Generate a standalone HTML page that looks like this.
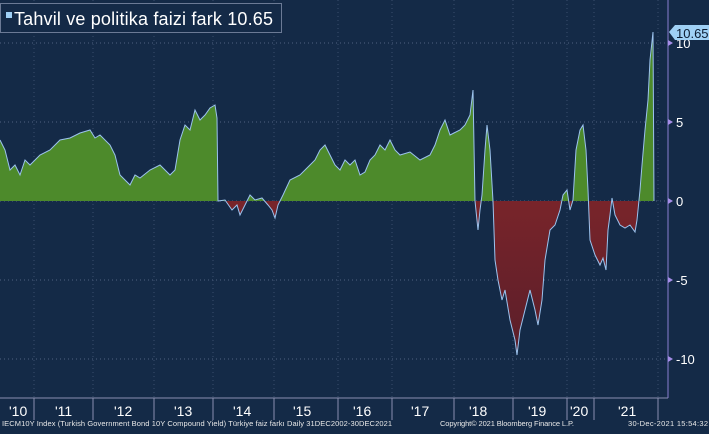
<!DOCTYPE html><html><head><style>
body{margin:0;background:#142a47;width:709px;height:429px;overflow:hidden;font-family:"Liberation Sans",sans-serif}
</style></head><body>
<svg width="709" height="429" xmlns="http://www.w3.org/2000/svg">
<rect width="709" height="429" fill="#142a47"/>
<defs>
<clipPath id="up"><rect x="0" y="0" width="668" height="201"/></clipPath>
<clipPath id="dn"><rect x="0" y="201" width="668" height="200"/></clipPath>
<linearGradient id="rg" x1="0" y1="0" x2="0" y2="1"><stop offset="0" stop-color="#9a2b2b"/><stop offset="1" stop-color="#5a1e2a"/></linearGradient>
<path id="f" d="M0,201 L0,140 5,150 10,170 15,165 20,175 25,160 30,165 40,155 50,150 60,140 70,138 80,133 90,130 95,138 100,135 110,145 115,155 120,175 125,180 130,185 135,175 140,178 150,170 160,165 170,175 175,170 180,140 185,125 190,130 195,110 200,120 205,115 210,108 215,105 217,118 218,201 225,200 232,210 237,205 240,215 245,205 250,195 255,200 262,198 268,205 272,210 275,218 278,205 283,195 290,180 300,175 310,165 315,160 320,150 325,145 330,155 335,165 340,170 345,160 350,165 355,160 360,175 365,172 370,160 375,155 380,145 385,150 390,140 395,150 400,155 410,152 420,160 430,155 435,145 440,130 445,120 450,135 460,130 465,125 470,115 473,90 475,201 478,230 480,210 482,195 485,150 487,125 490,150 493,201 495,260 498,280 502,300 505,290 510,320 515,340 517,355 520,330 525,310 530,290 535,310 538,325 542,300 545,260 550,230 555,225 560,210 563,195 567,190 570,210 573,200 576,150 580,130 583,125 586,150 588,190 590,240 595,255 600,265 603,258 606,270 608,230 610,215 612,198 615,215 620,225 625,228 630,225 635,232 637,220 640,190 642,165 645,130 648,100 650,60 653,32 654,201 Z"/>
</defs>
<g stroke="#4f6180" stroke-dasharray="1,3" stroke-width="1">
<line x1="0" x2="668" y1="43" y2="43"/><line x1="0" x2="668" y1="122" y2="122"/>
<line x1="0" x2="668" y1="201" y2="201"/><line x1="0" x2="668" y1="280" y2="280"/>
<line x1="0" x2="668" y1="359" y2="359"/>
</g>
<g stroke="#3a4d6c" stroke-dasharray="1,3" stroke-width="1">
<line x1="34" x2="34" y1="0" y2="398"/><line x1="93" x2="93" y1="0" y2="398"/><line x1="154" x2="154" y1="0" y2="398"/><line x1="213" x2="213" y1="0" y2="398"/><line x1="274" x2="274" y1="0" y2="398"/><line x1="338" x2="338" y1="0" y2="398"/><line x1="392" x2="392" y1="0" y2="398"/><line x1="454" x2="454" y1="0" y2="398"/><line x1="513" x2="513" y1="0" y2="398"/><line x1="567" x2="567" y1="0" y2="398"/><line x1="594" x2="594" y1="0" y2="398"/><line x1="658" x2="658" y1="0" y2="398"/>
</g>
<use href="#f" fill="#4d8a2b" clip-path="url(#up)"/>
<use href="#f" fill="url(#rg)" clip-path="url(#dn)"/>
<path d="M0,140 L5,150 10,170 15,165 20,175 25,160 30,165 40,155 50,150 60,140 70,138 80,133 90,130 95,138 100,135 110,145 115,155 120,175 125,180 130,185 135,175 140,178 150,170 160,165 170,175 175,170 180,140 185,125 190,130 195,110 200,120 205,115 210,108 215,105 217,118 218,201 225,200 232,210 237,205 240,215 245,205 250,195 255,200 262,198 268,205 272,210 275,218 278,205 283,195 290,180 300,175 310,165 315,160 320,150 325,145 330,155 335,165 340,170 345,160 350,165 355,160 360,175 365,172 370,160 375,155 380,145 385,150 390,140 395,150 400,155 410,152 420,160 430,155 435,145 440,130 445,120 450,135 460,130 465,125 470,115 473,90 475,201 478,230 480,210 482,195 485,150 487,125 490,150 493,201 495,260 498,280 502,300 505,290 510,320 515,340 517,355 520,330 525,310 530,290 535,310 538,325 542,300 545,260 550,230 555,225 560,210 563,195 567,190 570,210 573,200 576,150 580,130 583,125 586,150 588,190 590,240 595,255 600,265 603,258 606,270 608,230 610,215 612,198 615,215 620,225 625,228 630,225 635,232 637,220 640,190 642,165 645,130 648,100 650,60 653,32 654,201" fill="none" stroke="#9cc3ee" stroke-width="1"/>
<line x1="0" x2="668" y1="398" y2="398" stroke="#8a8fb0"/>
<line x1="668" x2="668" y1="0" y2="398" stroke="#8a7fd0"/>
<g stroke="#8a8fb0"><line x1="34" x2="34" y1="398" y2="420"/><line x1="93" x2="93" y1="398" y2="420"/><line x1="154" x2="154" y1="398" y2="420"/><line x1="213" x2="213" y1="398" y2="420"/><line x1="274" x2="274" y1="398" y2="420"/><line x1="338" x2="338" y1="398" y2="420"/><line x1="392" x2="392" y1="398" y2="420"/><line x1="454" x2="454" y1="398" y2="420"/><line x1="513" x2="513" y1="398" y2="420"/><line x1="567" x2="567" y1="398" y2="420"/><line x1="594" x2="594" y1="398" y2="420"/><line x1="658" x2="658" y1="398" y2="420"/></g>
<g fill="#a58ee8"><path d="M668,40 l5,3 -5,3z"/><path d="M668,119 l5,3 -5,3z"/><path d="M668,198 l5,3 -5,3z"/><path d="M668,277 l5,3 -5,3z"/><path d="M668,356 l5,3 -5,3z"/></g>
<g fill="#fff" font-size="13"><text x="676" y="48">10</text><text x="676" y="127">5</text><text x="676" y="206">0</text><text x="676" y="285">-5</text><text x="676" y="364">-10</text></g>
<path d="M669,32 l6,-7 h34 v15 h-34z" fill="#9fd0f5"/>
<text x="676" y="38" font-size="13" fill="#0a1a30">10.65</text>
<g fill="#fff" font-size="14"><text x="9" y="416">'10</text><text x="55" y="416">'11</text><text x="114" y="416">'12</text><text x="174" y="416">'13</text><text x="233" y="416">'14</text><text x="293" y="416">'15</text><text x="353" y="416">'16</text><text x="411" y="416">'17</text><text x="469" y="416">'18</text><text x="528" y="416">'19</text><text x="570" y="416">'20</text><text x="618" y="416">'21</text></g>
<g fill="#e8e8e8" font-size="7.5"><text x="2" y="426" textLength="390">IECM10Y Index (Turkish Government Bond 10Y Compound Yield) Türkiye faiz farkı  Daily 31DEC2002-30DEC2021</text><text x="440" y="426" textLength="134">Copyright© 2021 Bloomberg Finance L.P.</text><text x="628" y="426" textLength="80">30-Dec-2021 15:54:32</text></g>
<rect x="0.5" y="3.5" width="281" height="29" fill="#142a47" stroke="#6b7a95"/>
<rect x="6" y="12" width="6" height="6" fill="#9fd0f5"/>
<text x="14" y="25" font-size="18" fill="#fff" textLength="259">Tahvil ve politika faizi fark 10.65</text>
</svg>
</body></html>
